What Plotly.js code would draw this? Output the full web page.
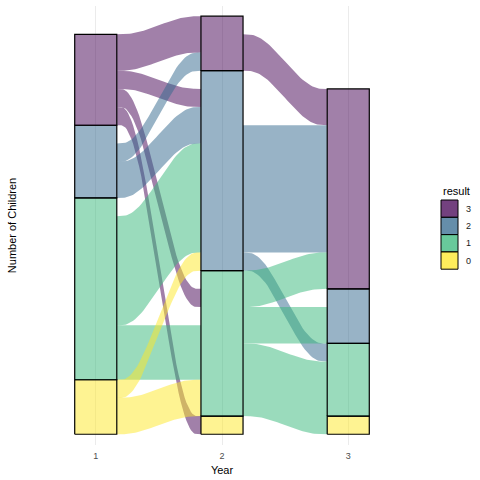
<!DOCTYPE html>
<html><head><meta charset="utf-8">
<script src="https://cdn.plot.ly/plotly-3.0.1.min.js"></script>
<style>html,body{margin:0;padding:0;background:#fff}</style>
</head><body><div id="chart" style="width:480px;height:480px"></div>
<script>
// Each entry = one group of children: result in year 1, 2, 3 (null = not observed that year) and count
const result_year1 = ['3','3','3','3','3','2','2','2','2','1','1','1','1','0','0','0',null,null,null];
const result_year2 = ['3','3','2','1','0',null,'3','2','2',null,'2','1','1','2','1','1','2','1','1'];
const result_year3 = [null,'3',null,'3',null,'2','3',null,'3',null,'3','2','1','1','1','0',null,'3','2'];
const n_children   = [1,1,1,1,1,1,1,1,1,1,6,1,2,1,1,1,1,1,1];
const years        = ['1','2','3'];
const results      = ['3','2','1','0'];
const resultColors = {'3':[68,1,84],'2':[49,104,142],'1':[53,183,121],'0':[253,231,37]};

const rgba = (s,a) => { const c = resultColors[s]; return `rgba(${c[0]},${c[1]},${c[2]},${a})`; };
const rk = s => s === null ? 0 : 4 - Number(s);
const paths = result_year1.map((_, i) => [result_year1[i], result_year2[i], result_year3[i]]);
const guidance = [[1,2],[2,0],[1,0]];
const pos = paths.map(() => [null,null,null]);
const strata = [];
const stackOrder = results.slice().reverse();
for (let a = 0; a < 3; a++) {
  let base = 0;
  for (const s of stackOrder) {
    const mem = paths.map((p,i)=>i).filter(i => paths[i][a] === s);
    const tot = mem.reduce((t,i)=>t+n_children[i],0);
    mem.sort((i,j)=>{ for (const b of guidance[a]) { const d = rk(paths[i][b]) - rk(paths[j][b]); if (d) return d; } return i-j; });
    let cur = base + tot;
    for (const i of mem) { pos[i][a] = [cur - n_children[i], cur]; cur -= n_children[i]; }
    if (tot > 0) strata.push({a, s, y0: base, y1: base + tot});
    base += tot;
  }
}
const hw = 1/6;
function spline(x0,y0,x1,y1){
  const w = x1-x0;
  const c = [[x0,y0],[x0,y0],[x0,y0],[x0+w/4,y0],[x1-w/4,y1],[x1,y1],[x1,y1],[x1,y1]];
  const out = [];
  for (let i=0;i<c.length-3;i++){
    for (let k=0;k<=14;k++){
      if (i>0 && k===0) continue;
      const t=k/14, t2=t*t, t3=t2*t;
      const b0=(1-t)**3/6, b1=(3*t3-6*t2+4)/6, b2=(-3*t3+3*t2+3*t+1)/6, b3=t3/6;
      out.push([b0*c[i][0]+b1*c[i+1][0]+b2*c[i+2][0]+b3*c[i+3][0],
                b0*c[i][1]+b1*c[i+1][1]+b2*c[i+2][1]+b3*c[i+3][1]]);
    }
  }
  return out;
}
const traces = [];
for (let a=0;a<2;a++){
  // flow segments between axis a and a+1, coloured by the result at axis a
  const segs = [];
  paths.forEach((p,i)=>{
    if (p[a]===null || p[a+1]===null) return;
    segs.push({s:p[a], tA:pos[i][a][1], bA:pos[i][a][0], tB:pos[i][a+1][1], bB:pos[i][a+1][0]});
  });
  segs.sort((u,v)=>v.tA-u.tA);
  // join neighbouring segments that touch at both ends and share a colour
  const merged = [];
  segs.forEach(g=>{
    const m = merged.find(q=>q.s===g.s && Math.abs(q.bA-g.tA)<1e-9 && Math.abs(q.bB-g.tB)<1e-9);
    if (m) { m.bA = g.bA; m.bB = g.bB; } else merged.push({...g});
  });
  const x0 = a+1+hw, x1 = a+2-hw;
  merged.forEach(g=>{
    const top = spline(x0,g.tA,x1,g.tB);
    const bot = spline(x0,g.bA,x1,g.bB).reverse();
    const pts = top.concat(bot);
    traces.push({type:'scatter',mode:'lines',x:pts.map(q=>q[0]),y:pts.map(q=>q[1]),
      fill:'toself',fillcolor:rgba(g.s,0.5),line:{width:0,color:'rgba(0,0,0,0)'},
      hoverinfo:'skip',showlegend:false});
  });
}
strata.forEach(st=>{
  const xc = st.a+1;
  traces.push({type:'scatter',mode:'lines',
    x:[xc-hw,xc+hw,xc+hw,xc-hw,xc-hw], y:[st.y0,st.y0,st.y1,st.y1,st.y0],
    fill:'toself',fillcolor:rgba(st.s,0.5),line:{width:1.2,color:'#000'},
    hoverinfo:'skip',showlegend:false});
});

const M = {l:20,r:56,t:6,b:35};
const PW = 480-M.l-M.r, PH = 480-M.t-M.b;
const px = x => (x-M.l)/PW, py = y => (480-M.b-y)/PH;
const shapes = [], annotations = [];
results.forEach((s,k)=>{
  const top = 200 + k*17.3;
  shapes.push({type:'rect',xref:'paper',yref:'paper',x0:px(441),x1:px(458),y0:py(top+17.3),y1:py(top),
    fillcolor:rgba(s,0.75),line:{color:'#000',width:1}});
  annotations.push({xref:'paper',yref:'paper',x:px(464),y:py(top+8.6),text:s,showarrow:false,
    xanchor:'left',yanchor:'middle',font:{size:9,color:'#1a1a1a'}});
});
annotations.push({xref:'paper',yref:'paper',x:px(441),y:py(191),text:'result',showarrow:false,
  xanchor:'left',yanchor:'middle',font:{size:11,color:'#000'}});

const layout = {
  width:480,height:480,margin:M,paper_bgcolor:'#fff',plot_bgcolor:'#fff',
  font:{family:'Liberation Sans, Arial, sans-serif'},
  showlegend:false,
  xaxis:{range:[0.4,3.6],tickvals:[1,2,3],ticktext:years,showgrid:true,gridcolor:'#EBEBEB',gridwidth:1,
    zeroline:false,showline:false,ticks:'',ticklabelstandoff:4,tickfont:{size:9,color:'#4D4D4D'},
    title:{text:'Year',font:{size:11,color:'#000'},standoff:6}},
  yaxis:{range:[-0.59,23.56],showticklabels:false,showgrid:false,zeroline:false,showline:false,ticks:'',
    title:{text:'Number of Children',font:{size:11,color:'#000'},standoff:0}},
  shapes, annotations
};
Plotly.newPlot('chart',traces,layout,{staticPlot:true,displayModeBar:false});
</script></body></html>
